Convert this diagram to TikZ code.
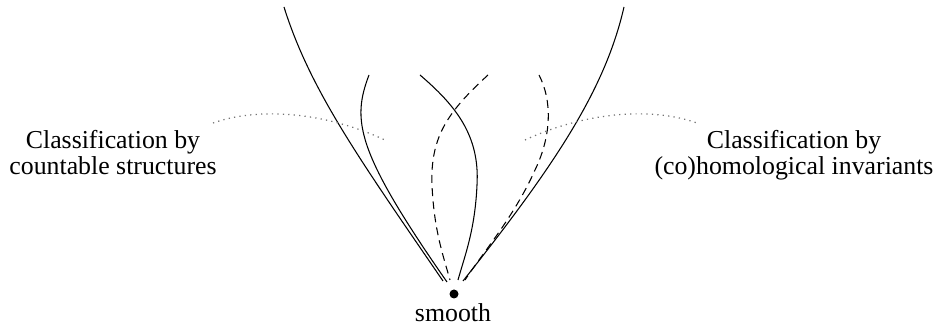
\documentclass[tikz,border=0pt]{standalone}
\usepackage{fontspec}
\setmainfont{Liberation Serif}
\newfontfamily\captionfont{Liberation Serif}
\begin{document}
\begin{tikzpicture}[
    x=0.02cm, y=-0.02cm,
    path/.style={line width=0.6pt},
    dashpath/.style={line width=0.6pt, dash pattern=on 4.5pt off 3pt},
    border/.style={black!55, line width=0.7pt, dash pattern=on 0.7pt off 2.4pt},
    caption/.style={align=center, anchor=base, font=\captionfont\fontsize{14.7pt}{15.3pt}\selectfont}
]
\useasboundingbox (0,0) rectangle (941,327);
\node[circle, fill, inner sep=0pt, minimum size=0.18cm] (dot) at (454,294) {};
\node[caption] (smooth) at (453,322) {smooth};
\node[caption] (left) at (113,175) {Classification by\\countable structures};
\node[caption] (right) at (794,175) {Classification by\\(co)homological invariants};
% ends of the curves, just above the dot
\coordinate (e1) at (443,281);
\coordinate (e2) at (447,282);
\coordinate (e3) at (450,280);
\coordinate (e4) at (458,280);
\coordinate (e5) at (465,280);
\coordinate (e6) at (463,281);
\draw[path] (284,7) .. controls (310,90) and (360,160) .. (e1);
\draw[path] (369,75) .. controls (352,120) and (355,150) .. (e2);
\draw[dashpath] (488,75) .. controls (450,110) and (430,135) .. (432,185)
    .. controls (434,230) and (443,255) .. (e3);
\draw[path] (420,75) .. controls (455,105) and (480,135) .. (477,185)
    .. controls (475,230) and (465,255) .. (e4);
\draw[dashpath] (539,75) .. controls (552,100) and (552,135) .. (535,170)
    .. controls (515,215) and (485,250) .. (e5);
\draw[path] (624,7) .. controls (605,90) and (555,165) .. (e6);
% dotted borders
\draw[border] (213,123) .. controls (255,108) and (320,110) .. (385,140);
\draw[border] (525,140) .. controls (590,110) and (655,108) .. (697,123);
\end{tikzpicture}
\end{document}
